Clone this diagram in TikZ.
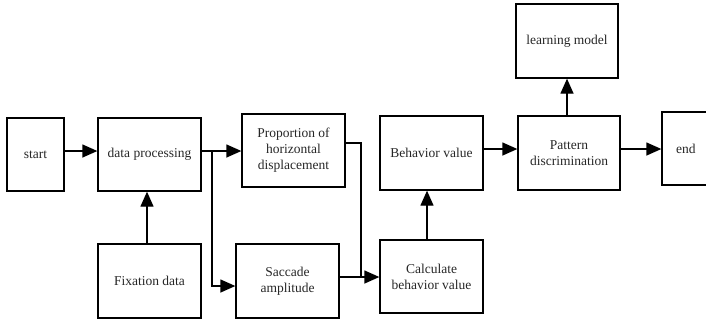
\documentclass[tikz,border=0pt]{standalone}
\usepackage{fontspec}
\setmainfont{Liberation Serif}
\usetikzlibrary{arrows.meta}
\begin{document}
\begin{tikzpicture}[x=1pt,y=-1pt,
  box/.style={draw, line width=1.3pt, inner sep=2pt, align=center,
    font=\fontsize{13.5}{16}\selectfont, text=black!85},
  conn/.style={line width=1.3pt},
  arr/.style={conn, -{Triangle[length=15pt,width=13pt]}}]
\useasboundingbox (0,0) rectangle (706,322);
\clip (0,0) rectangle (706,322);
\node[box, minimum width=57pt, minimum height=73pt] (start) at (35.5,154.5) {start};
\node[box, minimum width=103pt, minimum height=73pt] (dp) at (149.5,154.5) {data processing};
\node[box, minimum width=103pt, minimum height=73pt] (prop) at (293.5,150.5) {Proportion of\\horizontal\\displacement};
\node[box, minimum width=103pt, minimum height=74pt] (fix) at (149.5,281) {Fixation data};
\node[box, minimum width=103pt, minimum height=74pt] (sacc) at (287.5,281) {Saccade\\amplitude};
\node[box, minimum width=103pt, minimum height=74pt] (beh) at (431.5,153) {Behavior value};
\node[box, minimum width=103pt, minimum height=73pt] (calc) at (431.5,276.5) {Calculate\\behavior value};
\node[box, minimum width=102pt, minimum height=74pt] (pat) at (569,153) {Pattern\\discrimination};
\node[box, minimum width=102pt, minimum height=74pt] (learn) at (567,41) {learning model};
\node[box, minimum width=60pt, minimum height=73pt, text width=50pt, align=left] (end) at (692,148.5) {\hspace*{9pt}end};
\coordinate (j1) at (212,151);
\coordinate (j2) at (361,277);
\draw[arr] ([yshift=3.5pt]start.east) -- ([yshift=3.5pt]start.east -| dp.west);
\draw[arr] ([yshift=3.5pt]dp.east) -- ([yshift=3.5pt]dp.east -| prop.west);
\draw[arr] (j1) |- ([yshift=-5pt]sacc.west);
\draw[arr] ([xshift=-2.5pt]fix.north) -- ([xshift=-2.5pt]dp.south);
\draw[conn] ([yshift=7.5pt]prop.east) -| (j2);
\draw[conn] (sacc.east |- j2) -- (j2);
\draw[arr] (j2) -- (calc.west |- j2);
\draw[arr] ([xshift=-4.5pt]calc.north) -- ([xshift=-4.5pt]beh.south);
\draw[arr] ([yshift=4pt]beh.east) -- ([yshift=4pt]beh.east -| pat.west);
\draw[arr] (learn.south |- pat.north) -- (learn.south);
\draw[arr] ([yshift=4pt]pat.east) -- ([yshift=4pt]pat.east -| end.west);
\end{tikzpicture}
\end{document}
